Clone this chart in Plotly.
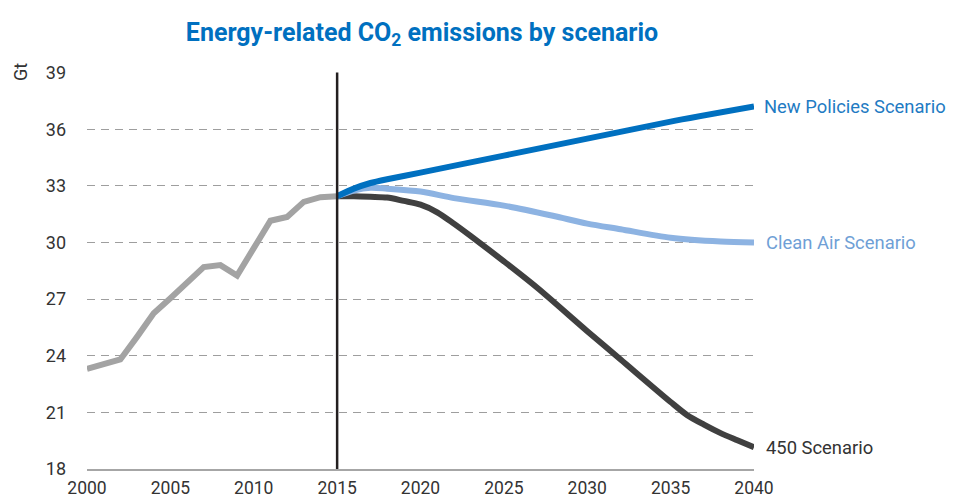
import plotly.graph_objects as go

# Historical emissions (Gt)
hist_years = [2000, 2001, 2002, 2003, 2004, 2005, 2006, 2007, 2008, 2009, 2010, 2011, 2012, 2013, 2014, 2015]
hist_vals = [23.3, 23.55, 23.8, 25.0, 26.25, 27.05, 27.9, 28.7, 28.8, 28.25, 29.7, 31.15, 31.35, 32.15, 32.4, 32.45]

# New Policies Scenario
nps_years = [2015, 2016, 2017, 2018, 2020, 2025, 2030, 2035, 2040]
nps_vals = [32.45, 32.85, 33.15, 33.35, 33.7, 34.6, 35.5, 36.4, 37.2]

# Clean Air Scenario
cas_years = [2015, 2016, 2017, 2018, 2020, 2022, 2025, 2028, 2030, 2032, 2035, 2038, 2040]
cas_vals = [32.45, 32.75, 32.9, 32.85, 32.7, 32.35, 31.95, 31.4, 31.0, 30.7, 30.25, 30.05, 30.0]

# 450 Scenario
s450_years = [2015, 2016, 2017, 2018, 2019, 2020, 2021, 2022, 2023, 2025, 2027, 2030, 2032, 2035, 2036, 2037, 2038, 2039, 2040]
s450_vals = [32.45, 32.45, 32.42, 32.38, 32.2, 32.0, 31.6, 31.0, 30.35, 29.0, 27.6, 25.3, 23.8, 21.55, 20.85, 20.35, 19.9, 19.52, 19.15]

y_ticks = [18, 21, 24, 27, 30, 33, 36, 39]
x_ticks = [2000, 2005, 2010, 2015, 2020, 2025, 2030, 2035, 2040]

FONT = "Roboto, Liberation Sans, sans-serif"

# page body adds an 8px margin, so the figure is drawn 8px smaller
W, H = 947, 492
L, T = 79, 64
R = W - 746
B = H - 461
PW = W - L - R

fig = go.Figure()

fig.add_trace(go.Scatter(x=hist_years, y=hist_vals, mode="lines",
                         line=dict(color="#A3A3A3", width=6), hoverinfo="skip"))
fig.add_trace(go.Scatter(x=s450_years, y=s450_vals, mode="lines",
                         line=dict(color="#404040", width=6, shape="spline", smoothing=0.8), hoverinfo="skip"))
fig.add_trace(go.Scatter(x=cas_years, y=cas_vals, mode="lines",
                         line=dict(color="#8DB3E2", width=6, shape="spline", smoothing=0.8), hoverinfo="skip"))
fig.add_trace(go.Scatter(x=nps_years, y=nps_vals, mode="lines",
                         line=dict(color="#0070C0", width=6, shape="spline", smoothing=0.6), hoverinfo="skip"))

# vertical line at 2015
fig.add_shape(type="line", x0=2015, x1=2015, y0=18, y1=39, xref="x", yref="y",
              line=dict(color="#231F20", width=2.5))

# end labels
fig.add_annotation(x=2040, y=nps_vals[-1], text="New Policies Scenario", xanchor="left", showarrow=False,
                   xshift=8, font=dict(family=FONT, size=18.4, color="#1F7BC3"))
fig.add_annotation(x=2040, y=cas_vals[-1], text="Clean Air Scenario", xanchor="left", showarrow=False,
                   xshift=10, font=dict(family=FONT, size=18.4, color="#6F9FD6"))
fig.add_annotation(x=2040, y=s450_vals[-1], text="450 Scenario", xanchor="left", showarrow=False,
                   xshift=10, font=dict(family=FONT, size=18.4, color="#333333"))

# unit label
fig.add_annotation(x=(12 - L) / PW, y=1.0, xref="paper", yref="paper", text="Gt", showarrow=False,
                   textangle=-90, xanchor="center", yanchor="middle",
                   font=dict(family=FONT, size=18, color="#333333"))

fig.update_layout(
    width=W, height=H,
    margin=dict(l=L, r=R, t=T, b=B, autoexpand=False),
    paper_bgcolor="white", plot_bgcolor="white",
    showlegend=False,
    title=dict(text="<b>Energy-related CO<sub>2</sub> emissions by scenario</b>",
               x=414 / W, xanchor="center", y=1 - 24 / H, yanchor="middle",
               font=dict(family=FONT, size=25, color="#0070C0")),
    xaxis=dict(range=[2000, 2040], tickvals=x_ticks, showgrid=False, zeroline=False,
               showline=True, linecolor="#A6A6A6", linewidth=2, ticks="", automargin=False,
               ticklabelstandoff=2,
               tickfont=dict(family=FONT, size=17.5, color="#333333")),
    yaxis=dict(range=[18, 39.03], tickvals=y_ticks, showgrid=True, gridcolor="#9E9E9E",
               griddash="8px,6px", gridwidth=1, zeroline=False, showline=False, ticks="",
               automargin=False, ticklabelstandoff=20,
               tickfont=dict(family=FONT, size=18, color="#333333")),
)

fig.write_html("out.html")
